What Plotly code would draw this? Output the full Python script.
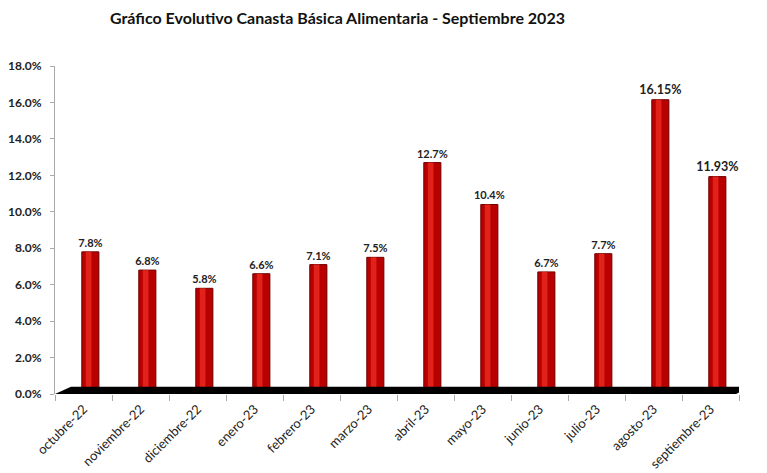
import plotly.graph_objects as go

categories = ["octubre-22", "noviembre-22", "diciembre-22", "enero-23", "febrero-23",
              "marzo-23", "abril-23", "mayo-23", "junio-23", "julio-23",
              "agosto-23", "septiembre-23"]
values = [7.8, 6.8, 5.8, 6.6, 7.1, 7.5, 12.7, 10.4, 6.7, 7.7, 16.15, 11.93]
labels = ["7.8%", "6.8%", "5.8%", "6.6%", "7.1%", "7.5%", "12.7%", "10.4%",
          "6.7%", "7.7%", "16.15%", "11.93%"]
label_sizes = [11] * 10 + [12.5, 12.5]
title = "Gráfico Evolutivo Canasta Básica Alimentaria - Septiembre 2023"

FONT = "Lato"

fig = go.Figure()

# main cylinder body
fig.add_trace(go.Bar(
    x=categories, y=values, width=0.3, offset=-0.03,
    marker=dict(color="#b80000", line=dict(color="#6e0000", width=1)),
    text=["<b>" + t + "</b>" for t in labels], textposition="outside",
    cliponaxis=False, constraintext="none",
    textfont=dict(family=FONT, size=label_sizes, color="#222"),
    hoverinfo="skip",
))
# highlight stripe
fig.add_trace(go.Bar(
    x=categories, y=values, width=0.1, offset=0.04,
    marker=dict(color="#e0221a", line=dict(width=0)),
    hoverinfo="skip",
))

# black floor (3D base)
fig.add_shape(type="path", xref="x", yref="y", layer="above",
              path="M -0.5 0 L 11.45 0 L 11.7 0.4 L -0.22 0.4 Z",
              fillcolor="#000000", line=dict(width=0))

fig.update_layout(
    width=767, height=473,
    margin=dict(l=55, r=28, t=66, b=79),
    paper_bgcolor="white", plot_bgcolor="white",
    barmode="overlay", showlegend=False,
    title=dict(text="<b>" + title + "</b>", x=0.44, xanchor="center",
               y=0.962, yanchor="middle",
               font=dict(family=FONT, size=16, color="#111")),
    font=dict(family=FONT, color="#333"),
)
fig.update_xaxes(
    type="category", range=[-0.5, 11.5], tickson="boundaries",
    ticks="outside", ticklen=6, tickcolor="#aaa", automargin=False,
    showline=False, showgrid=False, tickangle=-45, ticklabelstandoff=4,
    tickfont=dict(family=FONT, size=13, color="#222"),
)
fig.update_yaxes(
    range=[0, 18], dtick=2, tickformat=".1f", automargin=False,
    showgrid=False, showline=True, linecolor="#aaa", linewidth=1,
    ticks="outside", ticklen=4, tickcolor="#aaa", zeroline=False,
    ticklabelstandoff=6,
    tickfont=dict(family=FONT, size=12, color="#222"),
    tickprefix="<b>", ticksuffix="%</b>",
)

fig.write_html("out.html")
